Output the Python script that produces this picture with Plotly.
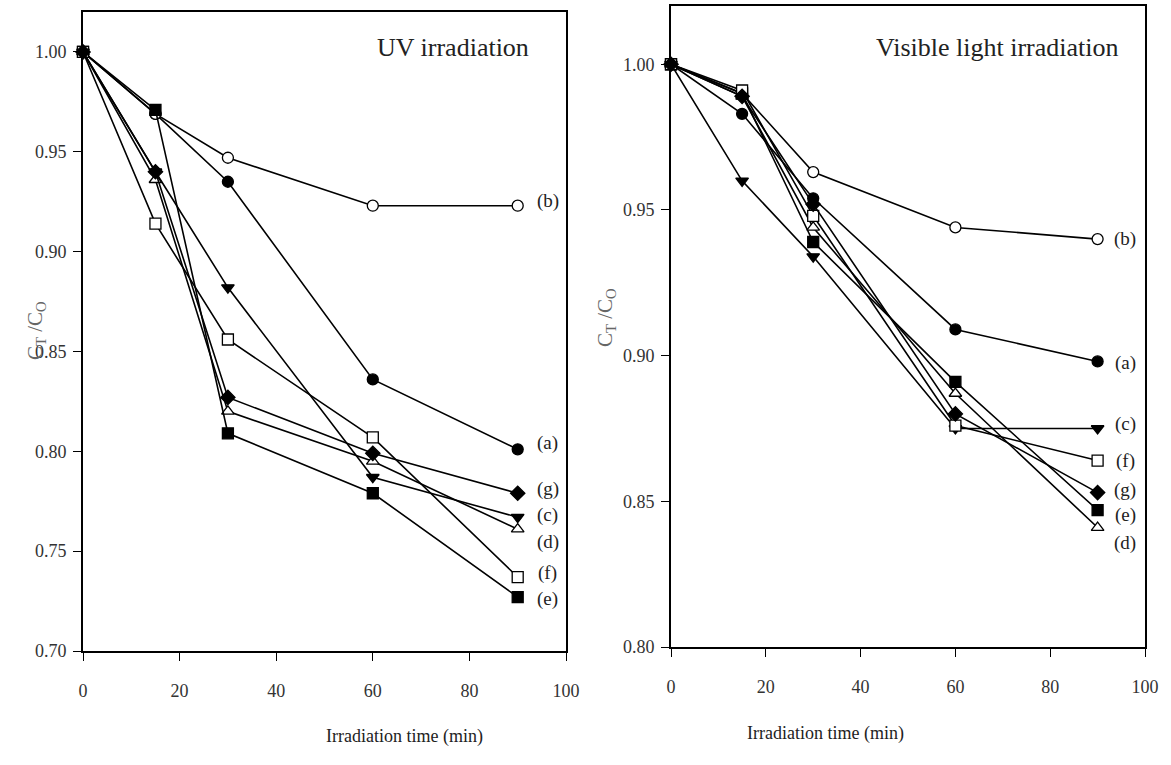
import plotly.graph_objects as go

# ---------------- data ----------------
time_min = [0, 15, 30, 60, 90]
series_labels = ["(a)", "(b)", "(c)", "(d)", "(e)", "(f)", "(g)"]

# UV irradiation (C_T/C_O)
uv_a = [1.000, 0.969, 0.935, 0.836, 0.801]
uv_b = [1.000, 0.969, 0.947, 0.923, 0.923]
uv_c = [1.000, 0.940, 0.882, 0.787, 0.767]
uv_d = [1.000, 0.936, 0.820, 0.795, 0.761]
uv_e = [1.000, 0.971, 0.809, 0.779, 0.727]
uv_f = [1.000, 0.914, 0.856, 0.807, 0.737]
uv_g = [1.000, 0.940, 0.827, 0.799, 0.779]

# Visible light irradiation (C_T/C_O)
vis_a = [1.000, 0.983, 0.954, 0.909, 0.898]
vis_b = [1.000, 0.990, 0.963, 0.944, 0.940]
vis_c = [1.000, 0.960, 0.934, 0.875, 0.875]
vis_d = [1.000, 0.989, 0.944, 0.887, 0.841]
vis_e = [1.000, 0.990, 0.939, 0.891, 0.847]
vis_f = [1.000, 0.991, 0.948, 0.876, 0.864]
vis_g = [1.000, 0.989, 0.952, 0.880, 0.853]

x_ticks = [0, 20, 40, 60, 80, 100]
uv_y_ticks = [0.70, 0.75, 0.80, 0.85, 0.90, 0.95, 1.00]
vis_y_ticks = [0.80, 0.85, 0.90, 0.95, 1.00]

# ---------------- styles ----------------
marker_styles = {
    "(a)": ("circle", "black"),
    "(b)": ("circle", "white"),
    "(c)": ("triangle-down", "black"),
    "(d)": ("triangle-up", "white"),
    "(e)": ("square", "black"),
    "(f)": ("square", "white"),
    "(g)": ("diamond", "black"),
}

uv_series = dict(zip(series_labels, [uv_a, uv_b, uv_c, uv_d, uv_e, uv_f, uv_g]))
vis_series = dict(zip(series_labels, [vis_a, vis_b, vis_c, vis_d, vis_e, vis_f, vis_g]))

# label positions at right of each panel (data coords)
uv_label_y = {"(a)": 0.804, "(b)": 0.9255, "(c)": 0.768, "(d)": 0.7547,
              "(e)": 0.726, "(f)": 0.739, "(g)": 0.781}
vis_label_y = {"(a)": 0.8976, "(b)": 0.9399, "(c)": 0.8767, "(d)": 0.8356,
               "(e)": 0.8454, "(f)": 0.8637, "(g)": 0.854}

SERIF = "Liberation Serif, Times New Roman, serif"

fig = go.Figure()

for name in series_labels:
    sym, fill = marker_styles[name]
    for ys, xa, ya in ((uv_series[name], "x", "y"), (vis_series[name], "x2", "y2")):
        fig.add_trace(go.Scatter(
            x=time_min, y=ys, xaxis=xa, yaxis=ya, mode="lines+markers",
            line=dict(color="black", width=1.6),
            marker=dict(symbol=sym, size=11, color=fill,
                        line=dict(color="black", width=1.3)),
            cliponaxis=False, showlegend=False, name=name,
        ))

axis_common = dict(
    showline=True, linecolor="black", linewidth=2, mirror=True,
    ticks="outside", ticklen=8, tickwidth=1.3, tickcolor="black",
    showgrid=False, zeroline=False, automargin=False,
    tickfont=dict(family=SERIF, size=18, color="#333333"),
)

fig.update_layout(
    width=1171, height=765,
    margin=dict(l=0, r=0, t=0, b=0, autoexpand=False),
    paper_bgcolor="white", plot_bgcolor="white",
    xaxis=dict(domain=[83 / 1171, 566 / 1171], range=[0, 100], tickvals=x_ticks,
               ticklabelstandoff=14, anchor="y", **axis_common),
    yaxis=dict(domain=[114 / 765, 753 / 765], range=[0.70, 1.02], tickvals=uv_y_ticks,
               tickformat=".2f", ticklabelstandoff=3, anchor="x", **axis_common),
    xaxis2=dict(domain=[671 / 1171, 1145 / 1171], range=[0, 100], tickvals=x_ticks,
                ticklabelstandoff=14, anchor="y2", **axis_common),
    yaxis2=dict(domain=[118 / 765, 759 / 765], range=[0.80, 1.02], tickvals=vis_y_ticks,
                tickformat=".2f", ticklabelstandoff=3, anchor="x2", **axis_common),
)

annotations = []
for name in series_labels:
    annotations.append(dict(x=96.2, y=uv_label_y[name], xref="x", yref="y", text=name,
                            showarrow=False, font=dict(family=SERIF, size=19, color="#222")))
    annotations.append(dict(x=95.8, y=vis_label_y[name], xref="x2", yref="y2", text=name,
                            showarrow=False, font=dict(family=SERIF, size=19, color="#222")))

annotations += [
    dict(x=76.6, y=1.002, xref="x", yref="y", text="UV irradiation", showarrow=False,
         font=dict(family=SERIF, size=26, color="#222")),
    dict(x=68.8, y=1.0058, xref="x2", yref="y2", text="Visible light irradiation",
         showarrow=False, font=dict(family=SERIF, size=26, color="#222")),
    dict(x=21 / 1171, y=1 - 331 / 765, xref="paper", yref="paper",
         text="C<sub>T</sub> /C<sub>O</sub>", textangle=-90, showarrow=False,
         font=dict(family=SERIF, size=21, color="#666")),
    dict(x=606 / 1171, y=1 - 318 / 765, xref="paper", yref="paper",
         text="C<sub>T</sub> /C<sub>O</sub>", textangle=-90, showarrow=False,
         font=dict(family=SERIF, size=21, color="#666")),
    dict(x=324 / 1171, y=1 - 749 / 765, xref="paper", yref="paper",
         text="Irradiation time (min)", showarrow=False,
         font=dict(family=SERIF, size=18, color="#222")),
    dict(x=906 / 1171, y=1 - 746 / 765, xref="paper", yref="paper",
         text="Irradiation time (min)", showarrow=False,
         font=dict(family=SERIF, size=18, color="#222")),
]
fig.update_layout(annotations=annotations)

fig.write_html("out.html")
